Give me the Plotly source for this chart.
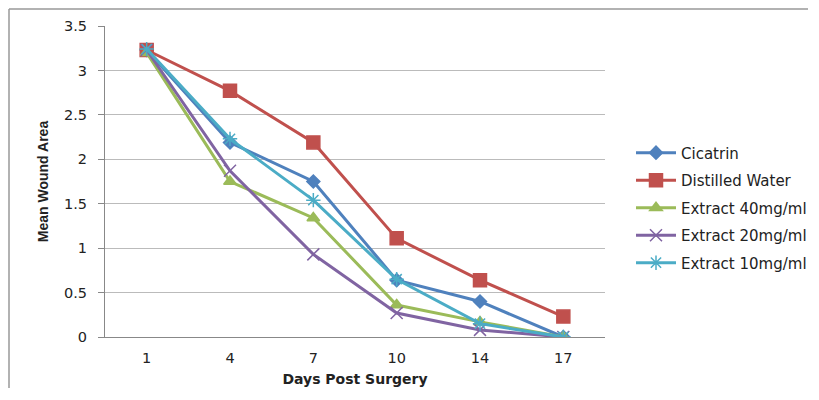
import plotly.graph_objects as go

days = ["1", "4", "7", "10", "14", "17"]
cicatrin = [3.23, 2.19, 1.75, 0.64, 0.40, 0.0]
distilled = [3.23, 2.77, 2.19, 1.11, 0.64, 0.23]
ext40 = [3.20, 1.75, 1.34, 0.36, 0.17, 0.0]
ext20 = [3.23, 1.87, 0.93, 0.27, 0.08, 0.0]
ext10 = [3.24, 2.23, 1.54, 0.65, 0.15, 0.0]
y_ticks = [0, 0.5, 1, 1.5, 2, 2.5, 3, 3.5]
y_tick_labels = ["0", "0.5", "1", "1.5", "2", "2.5", "3", "3.5"]

series = [
    ("Cicatrin", cicatrin, "#4F81BD", "diamond", 10),
    ("Distilled Water", distilled, "#C0504D", "square", 13),
    ("Extract 40mg/ml", ext40, "#9BBB59", "triangle-up", 11),
    ("Extract 20mg/ml", ext20, "#8064A2", "x-thin-open", 12),
    ("Extract 10mg/ml", ext10, "#4BACC6", "asterisk-open", 12),
]

fig = go.Figure()
for i, (name, vals, color, sym, sz) in enumerate(series):
    fig.add_trace(go.Scatter(
        x=days, y=vals, name=name, mode="lines+markers", legendgroup=f"g{i}",
        line=dict(color=color, width=3),
        marker=dict(symbol=sym, size=sz, color=color,
                    line=dict(color=color, width=1.5)),
    ))

# page has an 8px body margin: figure is drawn from (8, 8); keep it inside the window
fig.update_layout(
    width=800, height=380,
    margin=dict(l=97, r=203, t=18, b=51, autoexpand=False),
    paper_bgcolor="white", plot_bgcolor="white",
    font=dict(family="DejaVu Sans", size=14.5, color="#222"),
    showlegend=True,
    legend=dict(x=1.052, y=0.415, xanchor="left", yanchor="middle",
                font=dict(family="DejaVu Sans", size=15, color="#222"),
                tracegroupgap=5, itemwidth=40, bgcolor="rgba(0,0,0,0)"),
    xaxis=dict(
        type="category", range=[-0.5, 5.5], showgrid=False, showline=True,
        linecolor="#888", linewidth=1, ticks="", tickfont=dict(size=14.5),
        automargin=False, ticklabelstandoff=8,
        title=dict(text="<b>Days Post Surgery</b>", standoff=8,
                   font=dict(family="DejaVu Sans", size=14)),
    ),
    yaxis=dict(
        range=[0, 3.5], tickvals=y_ticks, ticktext=y_tick_labels,
        showgrid=True, gridcolor="#BBBBBB", gridwidth=1,
        showline=True, linecolor="#888", linewidth=1,
        ticks="outside", ticklen=6, tickcolor="#888", automargin=False,
        ticklabelstandoff=8,
        zeroline=False, tickfont=dict(size=14.5),
        title=dict(text="<b>Mean Wound Area</b>", standoff=12,
                   font=dict(family="Liberation Sans Narrow, Arial Narrow, Liberation Sans", size=14)),
    ),
    shapes=[
        dict(type="line", xref="paper", yref="paper",
             x0=-0.192, x1=-0.192, y0=-0.3, y1=1.0547,
             line=dict(color="#999", width=1.5), layer="below"),
        dict(type="line", xref="paper", yref="paper",
             x0=-0.192, x1=1.6, y0=1.0547, y1=1.0547,
             line=dict(color="#999", width=1.5), layer="below"),
    ],
)

fig.write_html("out.html")
